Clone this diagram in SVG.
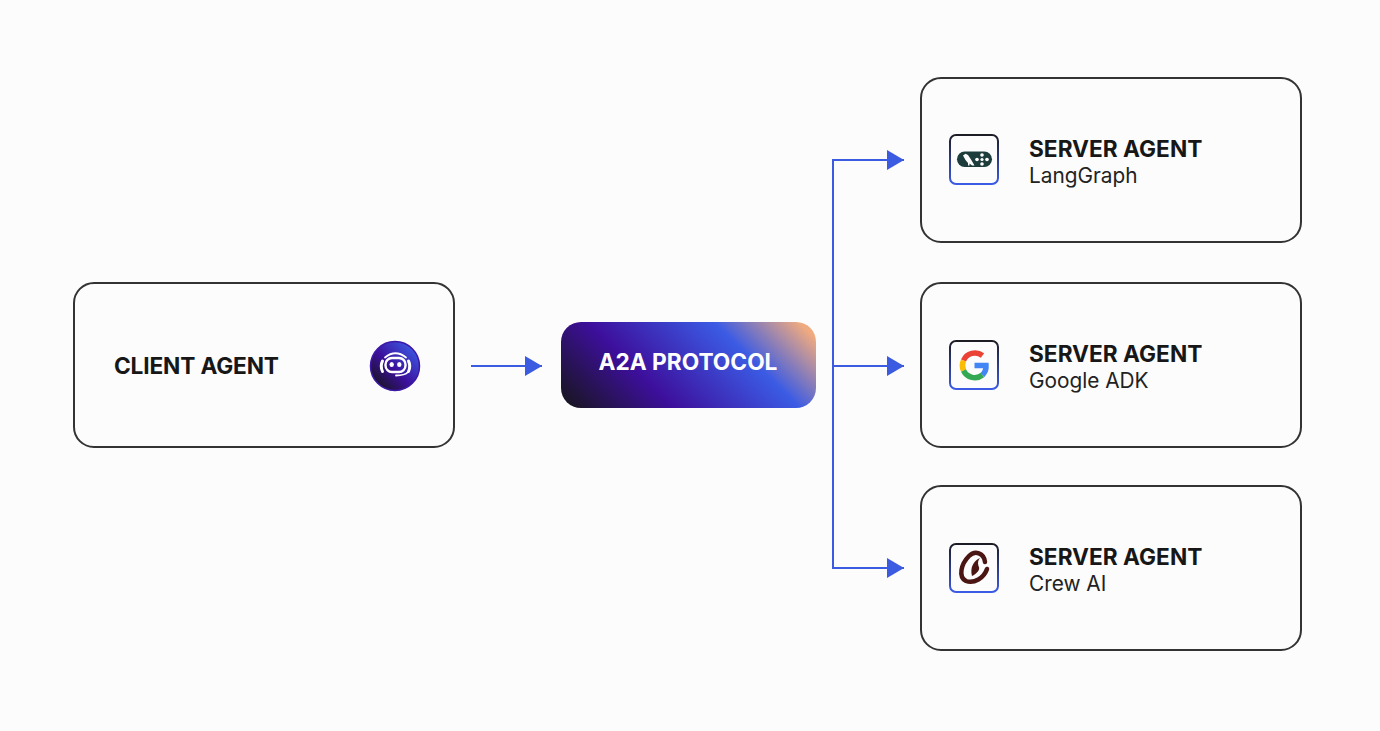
<svg xmlns="http://www.w3.org/2000/svg" width="1380" height="731" viewBox="0 0 1380 731">
<style>
.card{fill:#fcfcfc;stroke:#333;stroke-width:2}
.tile{fill:#fcfcfc;stroke:url(#tileStroke);stroke-width:2}
.title{font:700 22.7px Inter,"Liberation Sans",sans-serif;fill:#171717}
.sub{font:400 20.8px Inter,"Liberation Sans",sans-serif;fill:#222}
.conn{fill:none;stroke:#3b5be0;stroke-width:2}
.head{fill:#3b5be0}
</style>
<defs>
<linearGradient id="tileStroke" x1="0" y1="0" x2="0" y2="1"><stop offset="0" stop-color="#1c1c24"/><stop offset="1" stop-color="#3d5be4"/></linearGradient>
<linearGradient id="proto" gradientUnits="userSpaceOnUse" x1="561" y1="408" x2="731.500" y2="237.500">
<stop offset="0" stop-color="#161618"/><stop offset=".33" stop-color="#3d0f9c"/><stop offset=".7" stop-color="#3b5be4"/><stop offset=".95" stop-color="#efaa80"/></linearGradient>
<linearGradient id="bot" x1="0.1" y1="0.9" x2="0.9" y2="0.1"><stop offset="0" stop-color="#17141f"/><stop offset=".45" stop-color="#3c109c"/><stop offset="1" stop-color="#3b5be4"/></linearGradient>
<marker id="arrow" markerUnits="userSpaceOnUse" markerWidth="18" markerHeight="20" refX="17" refY="10" orient="auto"><path class="head" d="M0 0L17 10L0 20Z"/></marker>
</defs>
<rect width="1380" height="731" fill="#fcfcfc"/>
<g id="connectors">
<path class="conn" d="M471 366H542" marker-end="url(#arrow)"/>
<path class="conn" d="M833 366H904" marker-end="url(#arrow)"/>
<path class="conn" d="M904 160H833V568H904"/>
<path class="head" d="M887 150L904 160L887 170Z"/>
<path class="head" d="M887 558L904 568L887 578Z"/>
</g>
<g id="client-agent">
<rect class="card" x="74" y="283" width="380" height="164" rx="20"/>
<text class="title" x="114" y="374" style="letter-spacing:-.17px">CLIENT AGENT</text>
<circle cx="395" cy="366" r="24.500" fill="url(#bot)" stroke="#3d18a8" stroke-width="1.500"/>
<g fill="none" stroke="#fff" stroke-linecap="round">
<rect x="385.500" y="358" width="20" height="14" rx="6.500" stroke-width="2.400"/>
<path d="M385 357.500Q395.500 349 406 357.500" stroke-width="1.800"/>
<path d="M382.500 361Q380 366 382.500 371.500M408.500 361Q411 366 408.500 371.500" stroke-width="3"/>
<path d="M408 372Q405 375.500 396 375.500" stroke-width="1.800"/>
</g>
<ellipse cx="391.700" cy="364.500" rx="2.200" ry="2.500" fill="#fff"/><ellipse cx="399.300" cy="364.500" rx="2.200" ry="2.500" fill="#fff"/>
</g>
<g id="a2a-protocol">
<rect x="561" y="322" width="255" height="86" rx="20" fill="url(#proto)"/>
<text x="688" y="370" text-anchor="middle" style="font:700 22.700px Inter,'Liberation Sans',sans-serif" fill="#fff">A2A PROTOCOL</text>
</g>
<g id="server-langgraph">
<rect class="card" x="921" y="78" width="380" height="164" rx="20"/>
<rect class="tile" x="950" y="135" width="48" height="49" rx="6"/>
<rect x="957" y="151.500" width="35" height="15.500" rx="7.700" fill="#1d3c3c"/>
<path d="M963 155.500L965.500 153.800L968 155L971 159.500L974.500 165.500H972L969.500 163.500V165.500H968V163L965.500 160Z" fill="#fff"/>
<g fill="#fff"><circle cx="982" cy="159.500" r="1.600"/><circle cx="977" cy="159.500" r="1.800"/><circle cx="987" cy="159.500" r="1.800"/><circle cx="982" cy="155" r="1.800"/><circle cx="982" cy="164" r="1.800"/></g>
<text class="title" x="1029" y="157">SERVER AGENT</text>
<text class="sub" x="1029" y="183">LangGraph</text>
</g>
<g id="server-google-adk">
<rect class="card" x="921" y="283" width="380" height="164" rx="20"/>
<rect class="tile" x="950" y="341" width="48" height="48" rx="6"/>
<g fill="none" stroke-width="5.500">
<path d="M963.500 360.500A12.500 12.500 0 0 1 982.500 355.500" stroke="#ea4335"/>
<path d="M963.500 360.500A12.500 12.500 0 0 0 963.500 370.500" stroke="#fbbc05"/>
<path d="M963.500 370.500A12.500 12.500 0 0 0 982.500 375" stroke="#34a853"/>
<path d="M982.500 375A12.500 12.500 0 0 0 986 365.500H974.500" stroke="#4285f4"/>
</g>
<text class="title" x="1029" y="362">SERVER AGENT</text>
<text class="sub" x="1029" y="388">Google ADK</text>
</g>
<g id="server-crew-ai">
<rect class="card" x="921" y="486" width="380" height="164" rx="20"/>
<rect class="tile" x="950" y="544" width="48" height="48" rx="6"/>
<path d="M985 562C984 553 975 550 969 556C961 564 958 577 966 581C974 584 984 578 987 569" fill="none" stroke="#4a1512" stroke-width="4.500" stroke-linecap="round"/>
<path d="M980 558C973 561 970 568 972 576C976 574 981 570 978.500 566C977.500 563 978 560 980 558Z" fill="#4a1512"/>
<text class="title" x="1029" y="565">SERVER AGENT</text>
<text class="sub" x="1029" y="591">Crew AI</text>
</g>
</svg>
